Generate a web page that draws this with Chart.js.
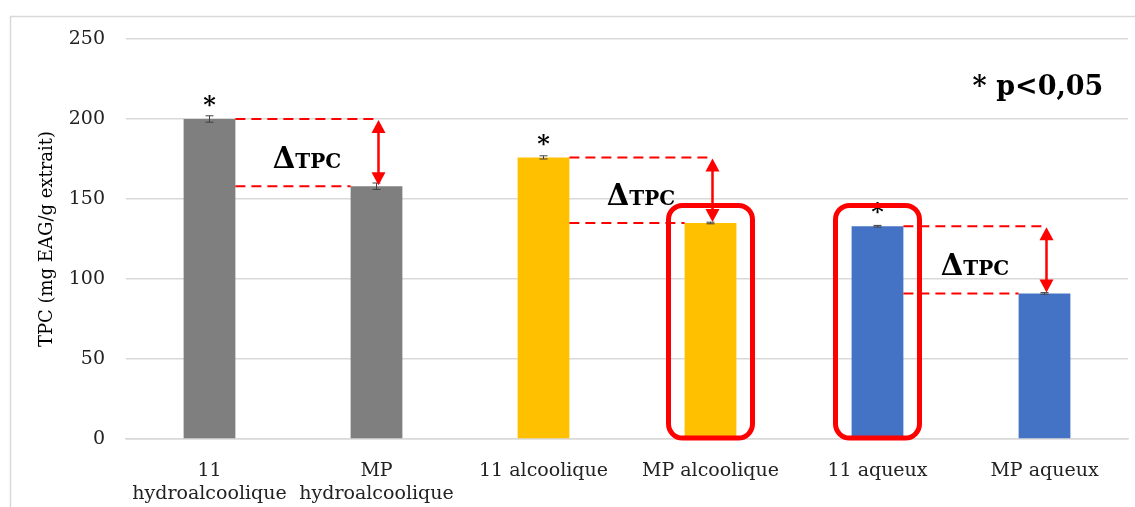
<!DOCTYPE html>
<html><head><meta charset="utf-8">
<script src="https://cdn.jsdelivr.net/npm/chart.js@4"></script>
<style>html,body{margin:0;padding:0;background:#fff}#wrap{width:1135px;height:507px;position:relative}</style>
</head><body><div id="wrap"><canvas id="c" width="1135" height="507"></canvas></div>
<script>
const categories = [["11","hydroalcoolique"],["MP","hydroalcoolique"],"11 alcoolique","MP alcoolique","11 aqueux","MP aqueux"];
const tpcValues = [200, 158, 176, 135, 133, 91];
const tpcErrors = [2, 2, 1, 0.5, 0.5, 0.5];
const barColors = ["#7f7f7f","#7f7f7f","#ffc000","#ffc000","#4472c4","#4472c4"];
const significant = [true, false, true, false, true, false];
const deltaPairs = [[0,1],[2,3],[4,5]];
const highlighted = [3,4];
const highlightTop = 146;
const yTicks = [0,50,100,150,200,250];
const serif = "'DejaVu Serif', serif";

const annot = {
  id: 'annot',
  afterDatasetsDraw(chart) {
    const ctx = chart.ctx, x = chart.scales.x, y = chart.scales.y;
    const meta = chart.getDatasetMeta(0);
    ctx.save();
    // error bars
    ctx.strokeStyle = '#404040'; ctx.lineWidth = 1;
    tpcValues.forEach((v,i) => {
      const cx = x.getPixelForValue(i);
      const yt = y.getPixelForValue(v + tpcErrors[i]), yb = y.getPixelForValue(v - tpcErrors[i]);
      ctx.beginPath();
      ctx.moveTo(cx, yt); ctx.lineTo(cx, yb);
      ctx.moveTo(cx-4, yt); ctx.lineTo(cx+4, yt);
      ctx.moveTo(cx-4, yb); ctx.lineTo(cx+4, yb);
      ctx.stroke();
    });
    // asterisks
    ctx.fillStyle = '#000'; ctx.font = "bold 24px " + serif; ctx.textAlign = 'center'; ctx.textBaseline = 'middle';
    tpcValues.forEach((v,i) => {
      if (significant[i]) ctx.fillText('*', x.getPixelForValue(i), y.getPixelForValue(v) - 12);
    });
    // delta annotations
    deltaPairs.forEach(([a,b]) => {
      const ba = meta.data[a], bb = meta.data[b];
      const rA = ba.x + ba.width/2, lB = bb.x - bb.width/2;
      const ax = x.getPixelForValue(b) + 2;
      const yA = y.getPixelForValue(tpcValues[a]), yB = y.getPixelForValue(tpcValues[b]);
      ctx.strokeStyle = '#ff0000'; ctx.lineWidth = 2; ctx.setLineDash([10,6]);
      ctx.beginPath(); ctx.moveTo(rA, yA); ctx.lineTo(ax, yA); ctx.stroke();
      ctx.beginPath(); ctx.moveTo(rA, yB); ctx.lineTo(lB, yB); ctx.stroke();
      ctx.setLineDash([]);
      ctx.lineWidth = 2.5;
      ctx.beginPath(); ctx.moveTo(ax, yA+10); ctx.lineTo(ax, yB-10); ctx.stroke();
      ctx.fillStyle = '#ff0000';
      ctx.beginPath(); ctx.moveTo(ax, yA+1); ctx.lineTo(ax-7, yA+14); ctx.lineTo(ax+7, yA+14); ctx.closePath(); ctx.fill();
      ctx.beginPath(); ctx.moveTo(ax, yB-1); ctx.lineTo(ax-7, yB-14); ctx.lineTo(ax+7, yB-14); ctx.closePath(); ctx.fill();
      // text
      const cx = (rA + ax)/2, cy = (yA + yB)/2 + 5;
      ctx.fillStyle = '#000'; ctx.textBaseline = 'alphabetic'; ctx.textAlign = 'left';
      ctx.font = "bold 29px " + serif;
      const w1 = ctx.measureText('\u0394').width;
      ctx.font = "bold 20px " + serif;
      const w2 = ctx.measureText('TPC').width;
      const sx = cx - (w1 + w2)/2;
      ctx.font = "bold 29px " + serif;
      ctx.fillText('\u0394', sx, cy + 10);
      ctx.font = "bold 20px " + serif;
      ctx.fillText('TPC', sx + w1, cy + 10);
    });
    // highlight boxes
    ctx.strokeStyle = '#ff0000'; ctx.lineWidth = 5;
    highlighted.forEach(i => {
      const cx = x.getPixelForValue(i);
      const t = y.getPixelForValue(highlightTop), b = y.getPixelForValue(0) - 1;
      ctx.beginPath(); ctx.roundRect(cx-42, t, 84, b - t, 14); ctx.stroke();
    });
    // p value note
    ctx.fillStyle = '#000'; ctx.font = "bold 27px " + serif; ctx.textAlign = 'center'; ctx.textBaseline = 'middle';
    ctx.fillText('* p<0,05', 1038, 88);
    ctx.restore();
  }
};
const frame = {
  id: 'frame',
  beforeDraw(chart) {
    const ctx = chart.ctx; ctx.save();
    ctx.strokeStyle = '#d9d9d9'; ctx.lineWidth = 1.5;
    ctx.beginPath(); ctx.moveTo(10.5, 507); ctx.lineTo(10.5, 16.5); ctx.lineTo(1135, 16.5); ctx.stroke();
    ctx.restore();
  }
};

new Chart(document.getElementById('c'), {
  type: 'bar',
  data: { labels: categories, datasets: [{ data: tpcValues, backgroundColor: barColors, barPercentage: 0.62, categoryPercentage: 0.5 }] },
  options: {
    responsive: false, animation: false, devicePixelRatio: 1,
    layout: { padding: { left: 37, right: 7, top: 39, bottom: 0 } },
    plugins: { legend: { display: false }, tooltip: { enabled: false } },
    scales: {
      x: {
        grid: { display: false, drawTicks: false },
        border: { color: '#d9d9d9', width: 1.5 },
        ticks: { color: '#222', font: { family: serif, size: 19, lineHeight: 1.2 }, padding: 21, maxRotation: 0, autoSkip: false },
        afterFit(s) { s.height = 68; }
      },
      y: {
        min: 0, max: 250,
        afterBuildTicks(s) { s.ticks = yTicks.map(v => ({ value: v })); },
        grid: { color: '#d9d9d9', lineWidth: 1.5, drawTicks: false },
        border: { display: false },
        ticks: { color: '#222', font: { family: serif, size: 19 }, padding: 21 },
        title: { display: true, text: 'TPC (mg EAG/g extrait)', color: '#000', font: { family: serif, size: 18 }, padding: { top: 0, bottom: 4 } },
        afterFit(s) { s.width = 89; }
      }
    }
  },
  plugins: [frame, annot]
});
</script></body></html>
